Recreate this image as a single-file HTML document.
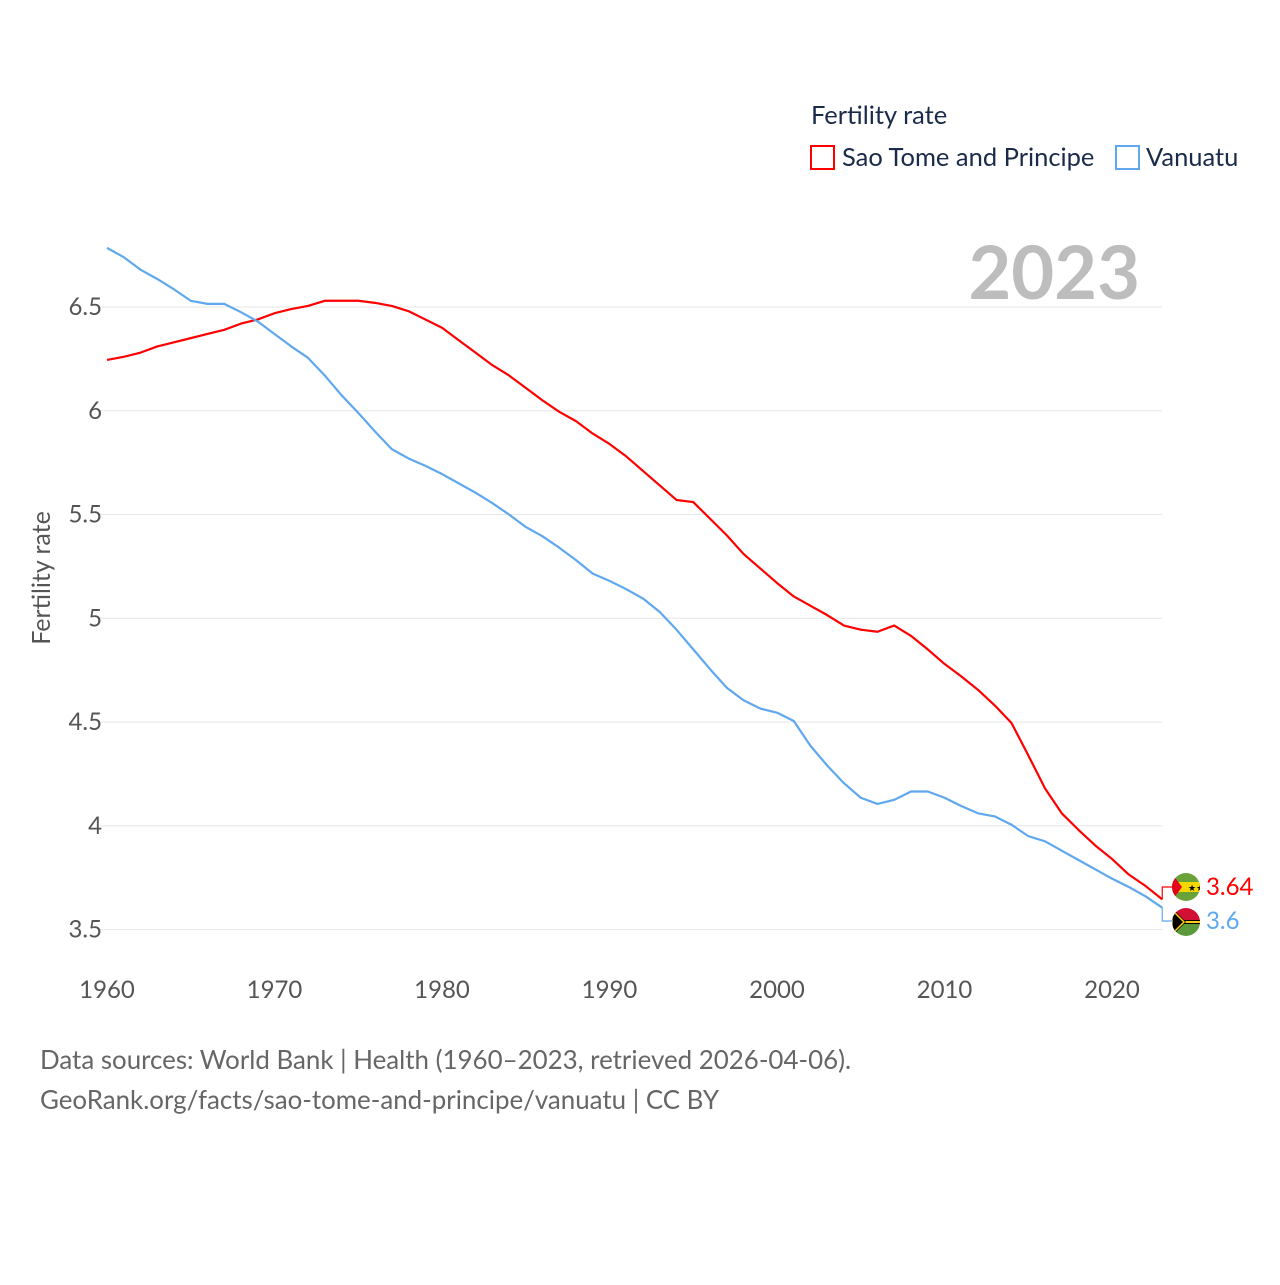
<!DOCTYPE html>
<html><head><meta charset="utf-8"><style>
body{margin:0;background:#fff;width:1280px;height:1280px;overflow:hidden;font-family:"Liberation Sans",sans-serif}
</style></head><body>
<svg id="chart" width="1280" height="1280" xmlns="http://www.w3.org/2000/svg" font-family="Lato, 'Liberation Sans', sans-serif">
<rect width="1280" height="1280" fill="#fff"/>
<text x="811" y="124" font-size="25.5" fill="#1a2b4a">Fertility rate</text>
<g><rect x="811" y="146" width="23" height="23" fill="none" stroke="#f00" stroke-width="2"/><text x="842" y="166" font-size="25.5" fill="#1a2b4a">Sao Tome and Principe</text></g>
<g><rect x="1116" y="146" width="23" height="23" fill="none" stroke="#5fa8f0" stroke-width="2"/><text x="1146" y="166" font-size="25.5" fill="#1a2b4a">Vanuatu</text></g>
<text x="1140" y="299" font-size="74" font-weight="bold" fill="#bdbdbd" text-anchor="end">2023</text>
<text transform="translate(50,578) rotate(-90)" font-size="25" fill="#555" text-anchor="middle">Fertility rate</text>
<g id="grid"></g><g id="xt"></g><g id="lines"></g>
<text x="40" y="1069" font-size="25.9" fill="#666">Data sources: World Bank | Health (1960–2023, retrieved 2026-04-06).</text>
<text x="40" y="1109" font-size="25.9" fill="#666">GeoRank.org/facts/sao-tome-and-principe/vanuatu | CC BY</text>
<g>
<clipPath id="c1"><circle cx="1186" cy="887" r="14"/></clipPath>
<g clip-path="url(#c1)"><rect x="1170" y="871" width="32" height="32" fill="#6aa23a"/><rect x="1170" y="882" width="32" height="10" fill="#f5d700"/><polygon points="1170,871 1182,887 1170,903" fill="#e2001a"/><text x="1188" y="891" font-size="9" fill="#000">★★</text></g></g>
<g>
<clipPath id="c2"><circle cx="1186" cy="922" r="14"/></clipPath>
<g clip-path="url(#c2)"><rect x="1170" y="906" width="32" height="16" fill="#d21034"/><rect x="1170" y="922" width="32" height="16" fill="#5a9a3a"/><rect x="1170" y="920" width="32" height="4" fill="#000"/><rect x="1170" y="921" width="32" height="2" fill="#fdce12"/><polygon points="1170,906 1186,922 1170,938" fill="#000"/><polygon points="1172,910 1184,922 1172,934" fill="none" stroke="#fdce12" stroke-width="1.5"/></g></g>
</svg>
<script>
const years=[];for(let y=1960;y<=2023;y++)years.push(y);
const stp=[6.245,6.26,6.28,6.31,6.33,6.35,6.37,6.39,6.42,6.44,6.47,6.49,6.505,6.53,6.53,6.53,6.52,6.505,6.48,6.44,6.40,6.34,6.28,6.22,6.17,6.11,6.05,5.995,5.95,5.89,5.84,5.78,5.71,5.64,5.57,5.56,5.48,5.40,5.31,5.24,5.17,5.105,5.06,5.015,4.965,4.945,4.935,4.965,4.915,4.85,4.78,4.72,4.655,4.58,4.495,4.34,4.18,4.06,3.98,3.905,3.84,3.765,3.71,3.645];
const vut=[6.785,6.74,6.68,6.635,6.585,6.53,6.515,6.515,6.475,6.43,6.37,6.31,6.255,6.17,6.075,5.99,5.9,5.815,5.77,5.735,5.695,5.65,5.605,5.555,5.5,5.44,5.395,5.34,5.28,5.215,5.18,5.14,5.095,5.03,4.945,4.85,4.755,4.665,4.605,4.565,4.545,4.505,4.385,4.29,4.205,4.135,4.105,4.125,4.165,4.165,4.135,4.095,4.06,4.045,4.005,3.95,3.925,3.88,3.835,3.79,3.745,3.705,3.66,3.605];
const yTicks=[3.5,4,4.5,5,5.5,6,6.5];
const xTicks=[1960,1970,1980,1990,2000,2010,2020];
const X=v=>107+(v-1960)*16.75, Y=v=>307+(6.5-v)*207.5;
const NS="http://www.w3.org/2000/svg";
function mk(t,a,p){const e=document.createElementNS(NS,t);for(const k in a)e.setAttribute(k,a[k]);p.appendChild(e);return e;}
const grid=document.getElementById('grid'),xt=document.getElementById('xt'),L=document.getElementById('lines');
yTicks.forEach(v=>{const l=mk('line',{x1:100,x2:1162,y1:Y(v),y2:Y(v),stroke:'#e6e6e6','stroke-width':1},grid);


const t=mk('text',{x:102,y:Y(v)+8,'font-size':24,fill:'#555','text-anchor':'end'},grid);t.textContent=v;

});
xTicks.forEach(v=>{const t=mk('text',{x:X(v),y:998,'font-size':24,fill:'#555','text-anchor':'middle'},xt);t.textContent=v;

});
function series(d,c,name,ly,lab){const p=mk('polyline',{points:d.map((v,i)=>X(years[i])+','+Y(v)).join(' '),fill:'none',stroke:c,'stroke-width':2.2,'stroke-linejoin':'round'},L);


const ex=X(years[years.length-1]),ey=Y(d[d.length-1]);
const c2=mk('polyline',{points:`${ex},${ey} ${ex},${ly} 1172,${ly}`,fill:'none',stroke:c,'stroke-width':1.2},L);


const t=mk('text',{x:1206,y:ly+8,'font-size':24,fill:c},L);t.textContent=lab;

}
series(stp,'#f00','line-sao-tome',887,'3.64');
series(vut,'#5fa8f0','line-vanuatu',921,'3.6');
</script>
</body></html>
